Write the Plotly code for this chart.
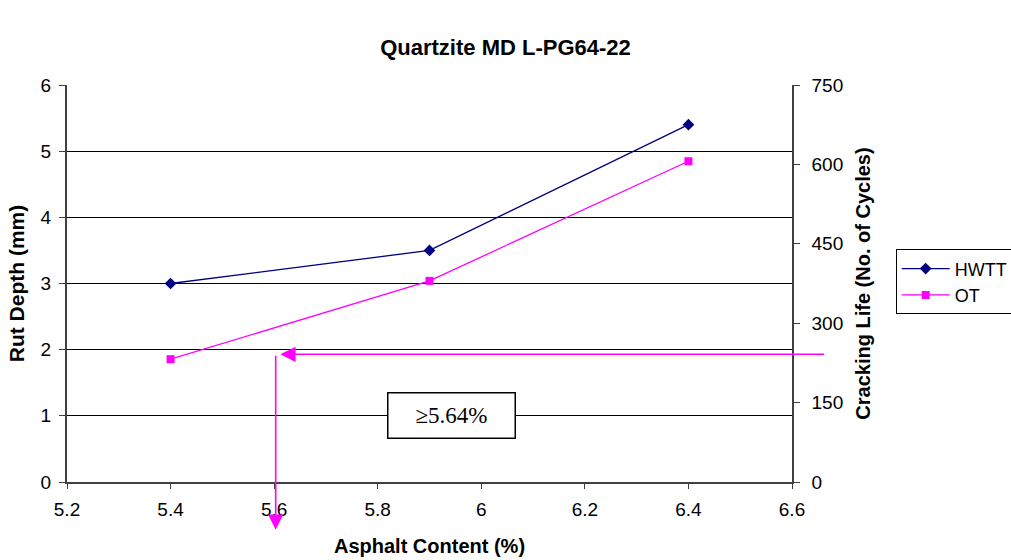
import plotly.graph_objects as go

asphalt = [5.4, 5.9, 6.4]
hwtt_rut = [3.0, 3.5, 5.4]
ot_cycles = [232, 380, 606]
x_ticks = [5.2, 5.4, 5.6, 5.8, 6.0, 6.2, 6.4, 6.6]
x_labels = ["5.2", "5.4", "5.6", "5.8", "6", "6.2", "6.4", "6.6"]
left_ticks = [0, 1, 2, 3, 4, 5, 6]
right_ticks = [0, 150, 300, 450, 600, 750]

font = "Liberation Sans, Arial, sans-serif"

fig = go.Figure()
fig.add_trace(go.Scatter(x=asphalt, y=hwtt_rut, name="HWTT", mode="lines+markers",
                         line=dict(color="#000080", width=1.3),
                         marker=dict(symbol="diamond", size=9, color="#000080")))
fig.add_trace(go.Scatter(x=asphalt, y=ot_cycles, name="OT", mode="lines+markers", yaxis="y2",
                         line=dict(color="#FF00FF", width=1.3),
                         marker=dict(symbol="square", size=8, color="#FF00FF")))

arrow_y = 1.93
arrow_x = 5.603
fig.add_annotation(x=5.612, y=arrow_y, xref="x", yref="y", ax=6.665, ay=arrow_y, axref="x", ayref="y",
                   showarrow=True, arrowhead=2, arrowsize=1.9, arrowwidth=1.6, arrowcolor="#FF00FF", text="")
fig.add_annotation(x=arrow_x, y=-0.72, xref="x", yref="y", ax=arrow_x, ay=arrow_y, axref="x", ayref="y",
                   showarrow=True, arrowhead=2, arrowsize=1.9, arrowwidth=1.6, arrowcolor="#FF00FF", text="")
fig.add_annotation(x=5.943, y=1.0, xref="x", yref="y", text="≥5.64%", showarrow=False,
                   font=dict(family="Liberation Serif, Times New Roman, serif", size=23, color="black"),
                   bordercolor="black", borderwidth=1.5, bgcolor="white", borderpad=0,
                   width=126, height=44)

fig.update_layout(
    width=1011, height=560,
    margin=dict(l=67, r=219, t=85, b=78, autoexpand=False),
    paper_bgcolor="white", plot_bgcolor="white",
    font=dict(family=font, size=19, color="black"),
    title=dict(text="<b>Quartzite MD L-PG64-22</b>", x=0.5, xref="container", y=0.916, yref="container",
               xanchor="center", yanchor="middle", font=dict(size=22, family=font)),
    showlegend=True,
    legend=dict(x=1.143, y=0.586, xref="paper", yref="paper", xanchor="left", yanchor="top",
                bordercolor="black", borderwidth=1, font=dict(size=18), itemwidth=48, tracegroupgap=4),
    xaxis=dict(range=[5.2, 6.6], tickvals=x_ticks, ticktext=x_labels, showgrid=False, zeroline=False,
               showline=True, linecolor="#404040", linewidth=1.5, ticks="outside", ticklen=5,
               tickcolor="#404040", ticklabelstandoff=4,
               title=dict(text="<b>Asphalt Content (%)</b>", font=dict(size=20), standoff=20)),
    yaxis=dict(range=[0, 6], tickvals=left_ticks, showgrid=True, gridcolor="black", gridwidth=1,
               zeroline=False, showline=True, linecolor="#404040", linewidth=2, ticks="outside",
               ticklen=6, tickcolor="#404040", ticklabelstandoff=4,
               title=dict(text="<b>Rut Depth (mm)</b>", font=dict(size=21), standoff=10)),
    yaxis2=dict(range=[0, 750], tickvals=right_ticks, overlaying="y", side="right", showgrid=False,
                zeroline=False, showline=True, linecolor="#404040", linewidth=1.5, ticks="outside",
                ticklen=6, tickcolor="#404040", ticklabelstandoff=8,
                title=dict(text="<b>Cracking Life (No. of Cycles)</b>", font=dict(size=20), standoff=14)),
)

fig.write_html("out.html")
